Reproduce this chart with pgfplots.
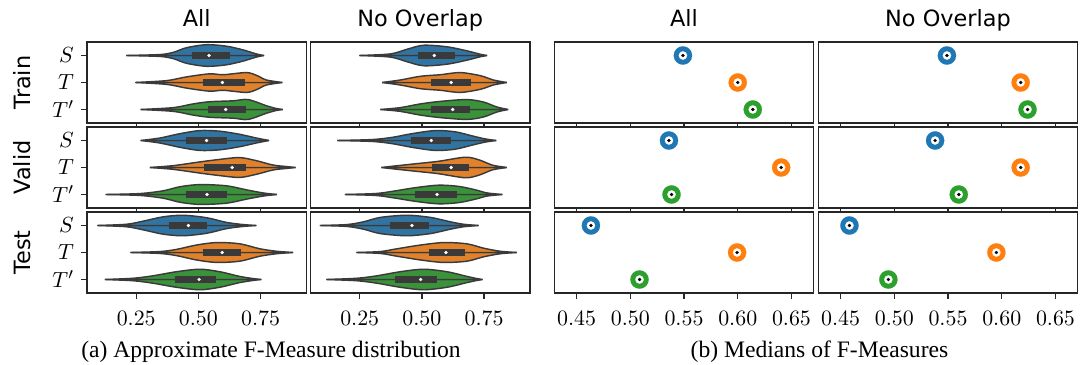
\documentclass[border=0pt]{standalone}
\usepackage[no-math]{fontspec}
\setmainfont{Liberation Serif}
\newfontfamily\dejavu{DejaVu Sans}
\usepackage{pgfplots}
\usepackage{pgfplotstable}
\pgfplotsset{compat=1.18}

\definecolor{vblue}{HTML}{3274A1}
\definecolor{vorange}{HTML}{E1812C}
\definecolor{vgreen}{HTML}{3A923A}
\definecolor{vedge}{HTML}{3A3A3A}
\definecolor{frame}{HTML}{262626}
\definecolor{tblue}{HTML}{1F77B4}
\definecolor{torange}{HTML}{FF7F0E}
\definecolor{tgreen}{HTML}{2CA02C}

% violin outlines: x, half-width (category units)
\pgfplotstableread{
0.209 0
0.345 0.035
0.399 0.115
0.452 0.288
0.533 0.40
0.613 0.345
0.680 0.207
0.733 0.058
0.764 0
}\ATrainS
\pgfplotstableread{
0.247 0
0.372 0.069
0.452 0.207
0.546 0.322
0.600 0.288
0.693 0.368
0.735 0.26
0.774 0.092
0.838 0
}\ATrainT
\pgfplotstableread{
0.268 0
0.399 0.069
0.479 0.207
0.546 0.288
0.640 0.322
0.700 0.368
0.774 0.138
0.814 0.035
0.840 0
}\ATrainU
\pgfplotstableread{
0.249 0
0.373 0.058
0.440 0.23
0.507 0.38
0.601 0.322
0.681 0.173
0.735 0.046
0.762 0
}\BTrainS
\pgfplotstableread{
0.340 0
0.413 0.092
0.494 0.23
0.574 0.288
0.654 0.368
0.735 0.253
0.788 0.092
0.842 0
}\BTrainT
\pgfplotstableread{
0.333 0
0.413 0.069
0.494 0.207
0.574 0.30
0.681 0.368
0.748 0.276
0.802 0.092
0.847 0
}\BTrainU
\pgfplotstableread{
0.268 0
0.345 0.092
0.426 0.253
0.506 0.368
0.586 0.345
0.666 0.23
0.733 0.092
0.784 0
}\AValidS
\pgfplotstableread{
0.305 0
0.399 0.069
0.506 0.207
0.586 0.30
0.666 0.368
0.733 0.253
0.800 0.092
0.854 0.035
0.891 0
}\AValidT
\pgfplotstableread{
0.127 0
0.265 0.035
0.359 0.138
0.426 0.288
0.506 0.368
0.613 0.322
0.693 0.173
0.760 0.058
0.816 0
}\AValidU
\pgfplotstableread{
0.159 0
0.300 0.035
0.380 0.115
0.460 0.253
0.554 0.368
0.634 0.322
0.701 0.173
0.755 0.058
0.799 0
}\BValidS
\pgfplotstableread{
0.337 0
0.393 0.058
0.474 0.138
0.567 0.23
0.674 0.38
0.728 0.288
0.782 0.092
0.815 0.035
0.842 0
}\BValidT
\pgfplotstableread{
0.190 0
0.313 0.035
0.380 0.115
0.474 0.253
0.567 0.345
0.648 0.30
0.715 0.173
0.762 0.058
0.824 0
}\BValidU
\pgfplotstableread{
0.094 0
0.211 0.046
0.278 0.161
0.359 0.322
0.439 0.38
0.533 0.288
0.613 0.115
0.680 0.035
0.733 0
}\ATestS
\pgfplotstableread{
0.227 0
0.345 0.035
0.412 0.115
0.492 0.276
0.573 0.368
0.666 0.322
0.747 0.138
0.814 0.046
0.881 0
}\ATestT
\pgfplotstableread{
0.124 0
0.238 0.046
0.318 0.138
0.412 0.288
0.506 0.38
0.586 0.288
0.666 0.115
0.720 0.035
0.753 0
}\ATestU
\pgfplotstableread{
0.090 0
0.199 0.035
0.266 0.138
0.333 0.30
0.440 0.38
0.534 0.30
0.614 0.138
0.668 0.046
0.728 0
}\BTestS
\pgfplotstableread{
0.237 0
0.333 0.035
0.400 0.138
0.494 0.276
0.587 0.368
0.681 0.322
0.748 0.161
0.815 0.046
0.882 0
}\BTestT
\pgfplotstableread{
0.116 0
0.239 0.046
0.320 0.138
0.413 0.288
0.507 0.38
0.601 0.288
0.681 0.115
0.721 0.035
0.744 0
}\BTestU

% #1 table, #2 category, #3 colour, #4-#5 whisker, #6-#7 box, #8 median
\newcommand\violin[8]{%
  \addplot[fill=#3, draw=vedge, line width=0.72pt, smooth, tension=0.5]
    table[x index=0, y expr=#2+\thisrowno{1}] {#1} -- cycle;
  \addplot[fill=#3, draw=vedge, line width=0.72pt, smooth, tension=0.5]
    table[x index=0, y expr=#2-\thisrowno{1}] {#1} -- cycle;
  \addplot[vedge, line width=0.7pt] coordinates {(#4,#2) (#5,#2)};
  \addplot[vedge, line width=3.3pt] coordinates {(#6,#2) (#7,#2)};
  \addplot[color=white, only marks, mark=*, mark size=0.8pt,
    mark options={solid, draw=white, fill=white, line width=0.1pt}] coordinates {(#8,#2)};
}
% #1 value, #2 category, #3 colour
\newcommand\medpt[3]{%
  \addplot[color=#3, only marks, mark=*, mark size=4.55pt,
    mark options={solid, draw=#3, fill=#3, line width=0.1pt}] coordinates {(#1,#2)};
  \addplot[color=white, only marks, mark=*, mark size=2.05pt,
    mark options={solid, draw=white, fill=white, line width=0.1pt}] coordinates {(#1,#2)};
  \addplot[color=black, only marks, mark=*, mark size=0.8pt,
    mark options={solid, draw=black, fill=black, line width=0.1pt}] coordinates {(#1,#2)};
}

\pgfplotsset{
  panel/.style={scale only axis, anchor=north west,
    axis background/.style={fill=white},
    axis line style={draw=frame, line width=0.7pt},
    every tick/.style={draw=frame, line width=0.65pt},
    major tick length=3pt, tick align=outside,
    xtick pos=bottom, ytick pos=left,
    y dir=reverse, ymin=-0.5, ymax=2.5, ytick=\empty,
    height=40.5pt,
    tick label style={font=\fontsize{10.95}{13}\selectfont},
    xticklabel style={yshift=-2.5pt},
    xticklabels={}},
  vio/.style={panel, width=109.75pt, xmin=0.052, xmax=0.935, xtick={0.25,0.5,0.75}},
  med/.style={panel, width=129.5pt, xmin=0.4295, xmax=0.6705, xtick={0.45,0.5,0.55,0.6,0.65}},
  ylab/.style={ytick={0,1,2}, yticklabels={$S$,$T$,$T'$}},
  botA/.style={xticklabels={$0.25$,$0.50$,$0.75$}},
  botC/.style={xticklabels={$0.45$,$0.50$,$0.55$,$0.60$,$0.65$}},
}

\begin{document}
\begin{tikzpicture}
\path[use as bounding box] (0,0) rectangle (540.5pt,-182pt);

% ---------- Train ----------
\begin{axis}[vio, ylab, at={(43.5pt,-21pt)}]
\violin{\ATrainS}{0}{vblue}{0.23}{0.745}{0.476}{0.626}{0.543}
\violin{\ATrainT}{1}{vorange}{0.27}{0.815}{0.519}{0.687}{0.597}
\violin{\ATrainU}{2}{vgreen}{0.29}{0.82}{0.539}{0.691}{0.610}
\end{axis}
\begin{axis}[vio, at={(155.25pt,-21pt)}]
\violin{\BTrainS}{0}{vblue}{0.27}{0.745}{0.483}{0.632}{0.550}
\violin{\BTrainT}{1}{vorange}{0.36}{0.82}{0.537}{0.699}{0.618}
\violin{\BTrainU}{2}{vgreen}{0.35}{0.825}{0.537}{0.695}{0.624}
\end{axis}
\begin{axis}[med, at={(277.25pt,-21pt)}]
\medpt{0.549}{0}{tblue}
\medpt{0.600}{1}{torange}
\medpt{0.614}{2}{tgreen}
\end{axis}
\begin{axis}[med, at={(409.25pt,-21pt)}]
\medpt{0.549}{0}{tblue}
\medpt{0.6176}{1}{torange}
\medpt{0.624}{2}{tgreen}
\end{axis}

% ---------- Valid ----------
\begin{axis}[vio, ylab, at={(43.5pt,-63.5pt)}]
\violin{\AValidS}{0}{vblue}{0.29}{0.76}{0.450}{0.616}{0.533}
\violin{\AValidT}{1}{vorange}{0.33}{0.86}{0.523}{0.693}{0.636}
\violin{\AValidU}{2}{vgreen}{0.15}{0.79}{0.450}{0.616}{0.535}
\end{axis}
\begin{axis}[vio, at={(155.25pt,-63.5pt)}]
\violin{\BValidS}{0}{vblue}{0.17}{0.78}{0.458}{0.617}{0.538}
\violin{\BValidT}{1}{vorange}{0.35}{0.83}{0.541}{0.691}{0.618}
\violin{\BValidU}{2}{vgreen}{0.20}{0.81}{0.474}{0.641}{0.561}
\end{axis}
\begin{axis}[med, at={(277.25pt,-63.5pt)}]
\medpt{0.536}{0}{tblue}
\medpt{0.6404}{1}{torange}
\medpt{0.5384}{2}{tgreen}
\end{axis}
\begin{axis}[med, at={(409.25pt,-63.5pt)}]
\medpt{0.538}{0}{tblue}
\medpt{0.6176}{1}{torange}
\medpt{0.560}{2}{tgreen}
\end{axis}

% ---------- Test ----------
\begin{axis}[vio, ylab, botA, at={(43.5pt,-106pt)}]
\violin{\ATestS}{0}{vblue}{0.12}{0.70}{0.383}{0.535}{0.460}
\violin{\ATestT}{1}{vorange}{0.25}{0.85}{0.519}{0.672}{0.596}
\violin{\ATestU}{2}{vgreen}{0.15}{0.73}{0.405}{0.570}{0.503}
\end{axis}
\begin{axis}[vio, botA, at={(155.25pt,-106pt)}]
\violin{\BTestS}{0}{vblue}{0.11}{0.70}{0.373}{0.527}{0.460}
\violin{\BTestT}{1}{vorange}{0.26}{0.85}{0.527}{0.674}{0.597}
\violin{\BTestU}{2}{vgreen}{0.14}{0.72}{0.393}{0.561}{0.495}
\end{axis}
\begin{axis}[med, botC, at={(277.25pt,-106pt)}]
\medpt{0.4634}{0}{tblue}
\medpt{0.5994}{1}{torange}
\medpt{0.5086}{2}{tgreen}
\end{axis}
\begin{axis}[med, botC, at={(409.25pt,-106pt)}]
\medpt{0.4583}{0}{tblue}
\medpt{0.595}{1}{torange}
\medpt{0.4945}{2}{tgreen}
\end{axis}

% ---------- titles, row labels, captions ----------
\begin{scope}[every node/.style={font=\dejavu\fontsize{11.2}{13}\selectfont, inner sep=0pt}]
\node[anchor=base] at (98.4pt,-13.35pt) {All};
\node[anchor=base] at (210.1pt,-13.35pt) {No Overlap};
\node[anchor=base] at (342pt,-13.35pt) {All};
\node[anchor=base] at (474pt,-13.35pt) {No Overlap};
\node[anchor=base, rotate=90] at (15.5pt,-41.25pt) {Train};
\node[anchor=base, rotate=90] at (15.5pt,-83.75pt) {Valid};
\node[anchor=base, rotate=90] at (15.5pt,-126.25pt) {Test};
\end{scope}
\begin{scope}[every node/.style={font=\fontsize{11.8}{14}\selectfont, inner sep=0pt}]
\node[anchor=base] at (135.5pt,-178.5pt) {(a) Approximate F-Measure distribution};
\node[anchor=base] at (409.75pt,-178.5pt) {(b) Medians of F-Measures};
\end{scope}
\end{tikzpicture}
\end{document}
